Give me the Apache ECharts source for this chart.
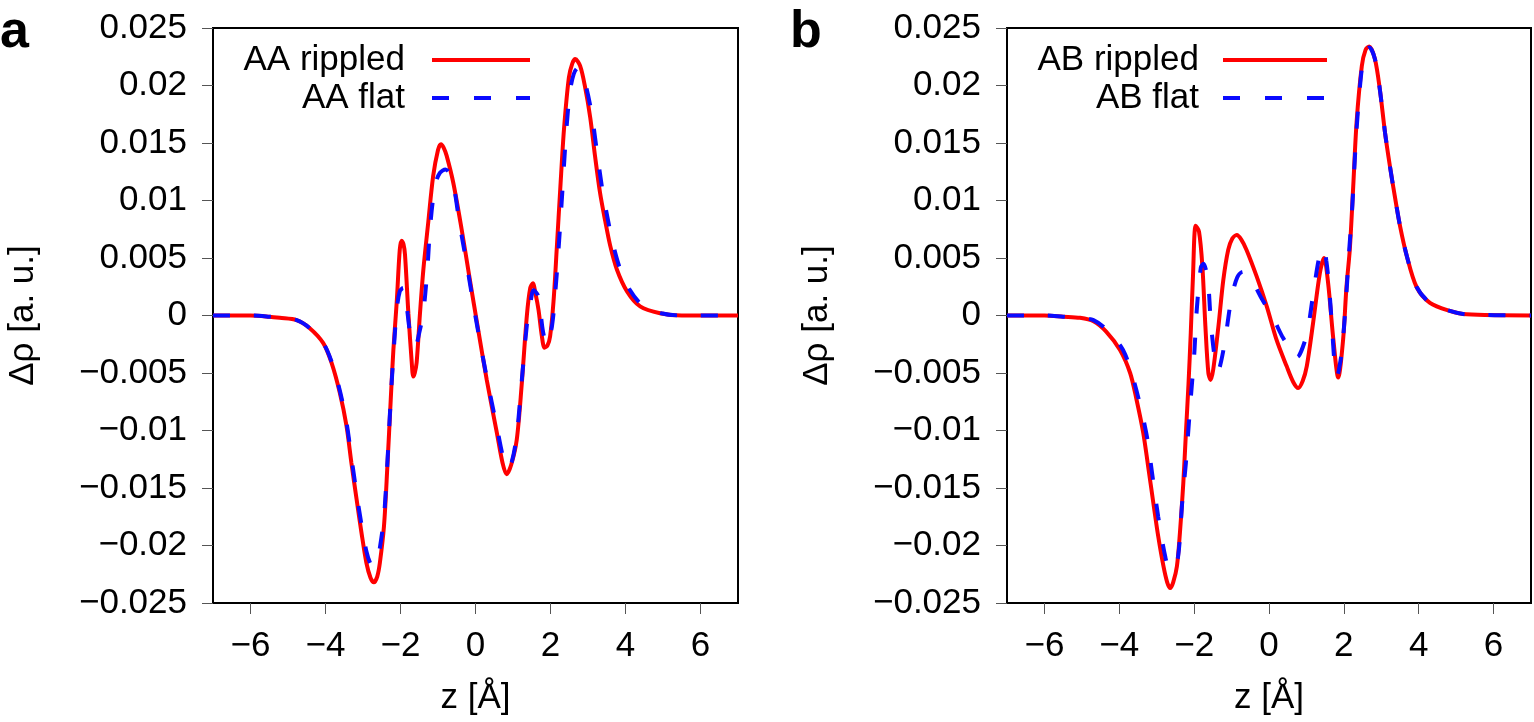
<!DOCTYPE html>
<html>
<head>
<meta charset="utf-8">
<script src="https://cdn.jsdelivr.net/npm/echarts@6/dist/echarts.min.js"></script>
<style>
  html, body { margin: 0; padding: 0; background: #fff; }
  #main { width: 1534px; height: 722px; }
</style>
</head>
<body>
<div id="main"></div>
<script>
// 坐标刻度
var xTicks = [-6, -4, -2, 0, 2, 4, 6];
var yTicks = [-0.025, -0.02, -0.015, -0.01, -0.005, 0, 0.005, 0.01, 0.015, 0.02, 0.025];

// panel a: AA rippled
var aRipZ = [-7, -6, -5.5, -5.22, -4.77, -4.42, -4.06, -3.84, -3.62, -3.44, -3.31, -3.17, -3.04, -2.91, -2.8, -2.71, -2.62, -2.55, -2.44, -2.35, -2.26, -2.19, -2.1, -2.02, -1.97, -1.92, -1.88, -1.79, -1.7, -1.66, -1.62, -1.57, -1.48, -1.39, -1.26, -1.13, -1.0, -0.92, -0.85, -0.77, -0.59, -0.37, -0.15, 0.07, 0.3, 0.57, 0.72, 0.83, 0.95, 1.1, 1.23, 1.37, 1.46, 1.53, 1.6, 1.68, 1.77, 1.84, 1.92, 1.99, 2.08, 2.17, 2.26, 2.36, 2.49, 2.58, 2.66, 2.79, 2.92, 3.06, 3.19, 3.32, 3.46, 3.59, 3.77, 4.04, 4.39, 4.92, 5.5, 7];
var aRipV = [0, 0, -0.0001, -0.0002, -0.0004, -0.0011, -0.0024, -0.0041, -0.0067, -0.0096, -0.0128, -0.016, -0.0189, -0.0215, -0.0228, -0.0232, -0.0227, -0.0215, -0.0183, -0.0131, -0.0073, -0.003, 0.0012, 0.0057, 0.0065, 0.0062, 0.0053, 0.0002, -0.0041, -0.0053, -0.005, -0.0041, 0.0002, 0.004, 0.0081, 0.0121, 0.0144, 0.0149, 0.0146, 0.0139, 0.0115, 0.0075, 0.0031, -0.0012, -0.0056, -0.0102, -0.0128, -0.0138, -0.013, -0.0108, -0.0061, 0, 0.0024, 0.0028, 0.0019, 0.0005, -0.0018, -0.0028, -0.0026, -0.0018, 0.0012, 0.006, 0.011, 0.0162, 0.0207, 0.0219, 0.0223, 0.0217, 0.0199, 0.0172, 0.0138, 0.0107, 0.0082, 0.0061, 0.004, 0.0021, 0.0008, 0.0002, 0, 0];

// panel a: AA flat
var aFlatZ = [-7, -6, -5.5, -5.22, -4.77, -4.42, -4.06, -3.84, -3.62, -3.44, -3.31, -3.17, -3.04, -2.91, -2.8, -2.72, -2.62, -2.55, -2.44, -2.35, -2.26, -2.18, -2.1, -2.02, -1.93, -1.85, -1.76, -1.68, -1.6, -1.5, -1.39, -1.28, -1.21, -1.08, -0.95, -0.8, -0.68, -0.56, -0.44, -0.22, 0.0, 0.3, 0.57, 0.72, 0.85, 0.97, 1.1, 1.23, 1.37, 1.45, 1.55, 1.67, 1.8, 1.9, 2.04, 2.15, 2.23, 2.32, 2.42, 2.52, 2.62, 2.72, 2.82, 2.95, 3.1, 3.24, 3.38, 3.52, 3.66, 3.84, 4.1, 4.45, 4.95, 5.5, 7];
var aFlatV = [0, 0, -0.0001, -0.0002, -0.0004, -0.0011, -0.0024, -0.004, -0.0065, -0.0093, -0.0123, -0.0155, -0.0182, -0.0205, -0.0216, -0.0218, -0.0212, -0.0202, -0.0175, -0.0128, -0.0072, -0.003, 0.0005, 0.0021, 0.0024, 0.0012, -0.0012, -0.0025, -0.0026, -0.0015, 0.0003, 0.0042, 0.0077, 0.0113, 0.0124, 0.0127, 0.0123, 0.0109, 0.0083, 0.0042, -0.0001, -0.0054, -0.0097, -0.0121, -0.0133, -0.0127, -0.0104, -0.0058, -0.0008, 0.0008, 0.0022, 0.0017, -0.0014, -0.0025, -0.0009, 0.0029, 0.0065, 0.011, 0.016, 0.0195, 0.021, 0.0215, 0.0211, 0.0199, 0.0175, 0.0142, 0.011, 0.0085, 0.0063, 0.0042, 0.0023, 0.0009, 0.0002, 0, 0];

// panel b: AB rippled
var bRipZ = [-7, -6, -5.5, -5.05, -4.69, -4.35, -3.98, -3.71, -3.54, -3.36, -3.23, -3.09, -2.96, -2.82, -2.72, -2.64, -2.56, -2.46, -2.38, -2.29, -2.22, -2.15, -2.09, -2.03, -1.96, -1.87, -1.78, -1.7, -1.62, -1.56, -1.49, -1.35, -1.22, -1.09, -0.98, -0.86, -0.74, -0.6, -0.33, -0.06, 0.2, 0.47, 0.65, 0.78, 0.9, 1.01, 1.18, 1.36, 1.47, 1.58, 1.72, 1.85, 1.98, 2.07, 2.16, 2.25, 2.34, 2.48, 2.58, 2.68, 2.83, 2.96, 3.1, 3.23, 3.36, 3.5, 3.68, 3.94, 4.3, 4.83, 5.28, 7];
var bRipV = [0, 0, -0.0001, -0.0002, -0.0005, -0.0014, -0.003, -0.005, -0.0073, -0.0102, -0.0131, -0.0163, -0.0192, -0.0218, -0.0232, -0.0237, -0.0232, -0.0218, -0.0189, -0.0146, -0.0102, -0.0059, -0.0015, 0.0035, 0.0078, 0.0073, 0.0043, -0.0009, -0.005, -0.0056, -0.0047, -0.0009, 0.0031, 0.0057, 0.0067, 0.007, 0.0066, 0.0057, 0.0034, 0.0008, -0.0021, -0.0044, -0.0058, -0.0063, -0.0057, -0.0044, -0.0006, 0.0037, 0.005, 0.0028, -0.0021, -0.0054, -0.0021, 0.0025, 0.0058, 0.0112, 0.0168, 0.0217, 0.0231, 0.0234, 0.0223, 0.0197, 0.0159, 0.013, 0.0104, 0.0078, 0.0052, 0.0025, 0.0011, 0.0004, 0.0001, 0];

// panel b: AB flat
var bFlatZ = [-7, -6, -5.5, -5.05, -4.69, -4.35, -3.9, -3.6, -3.28, -3.12, -2.96, -2.77, -2.65, -2.56, -2.43, -2.32, -2.22, -2.11, -2.0, -1.93, -1.82, -1.75, -1.63, -1.55, -1.42, -1.36, -1.28, -1.17, -1.01, -0.85, -0.7, -0.55, -0.45, -0.2, 0.08, 0.35, 0.6, 0.69, 0.8, 0.93, 1.04, 1.2, 1.35, 1.46, 1.53, 1.6, 1.68, 1.76, 1.82, 1.88, 1.95, 2.05, 2.13, 2.22, 2.34, 2.48, 2.58, 2.68, 2.83, 2.96, 3.1, 3.23, 3.36, 3.5, 3.68, 3.94, 4.3, 4.83, 5.28, 7];
var bFlatV = [0, 0, -0.0001, -0.0002, -0.0004, -0.0012, -0.003, -0.0058, -0.0102, -0.0138, -0.0175, -0.021, -0.0221, -0.022, -0.021, -0.0163, -0.0128, -0.008, -0.0035, 0.0005, 0.0042, 0.0045, 0.0029, -0.0008, -0.0044, -0.0048, -0.004, -0.0021, 0.0014, 0.0033, 0.0038, 0.0036, 0.0031, 0.0015, 0, -0.0018, -0.0031, -0.0037, -0.0035, -0.0025, -0.0012, 0.0023, 0.0052, 0.0059, 0.0048, 0.0027, -0.0008, -0.0045, -0.0053, -0.0045, -0.003, 0.001, 0.0051, 0.0092, 0.0162, 0.0215, 0.023, 0.0233, 0.0223, 0.0197, 0.0159, 0.013, 0.0104, 0.0078, 0.0052, 0.0025, 0.0011, 0.0004, 0.0001, 0];

function pairs(z, v) {
    return z.map(function (x, i) { return [x, v[i]]; });
}

var FONT = 'Liberation Sans';
var RED = '#ff0000';
var BLUE = '#0a0aff';

function fmt(val) {
    var s = (Math.round(val * 1000) / 1000).toString();
    if (Math.abs(val) < 1e-9) s = '0';
    return s.replace('-', '\u2212');
}

function xAxisOf(idx) {
    return {
        type: 'value', gridIndex: idx, min: -7, max: 7,
        name: 'z [\u00c5]', nameLocation: 'middle', nameGap: 78,
        nameTextStyle: { fontFamily: FONT, fontSize: 35, color: '#000' },
        axisLine: { show: false, onZero: false },
        axisTick: { show: true, length: 11, customValues: xTicks, lineStyle: { color: '#555', width: 1 } },
        axisLabel: { customValues: xTicks, fontFamily: FONT, fontSize: 35, color: '#000', margin: 26, formatter: fmt },
        splitLine: { show: false }
    };
}

function yAxisOf(idx) {
    return {
        type: 'value', gridIndex: idx, min: -0.025, max: 0.025,
        name: '\u0394\u03c1 [a. u.]', nameLocation: 'middle', nameGap: 172,
        nameTextStyle: { fontFamily: FONT, fontSize: 35, color: '#000' },
        axisLine: { show: false, onZero: false },
        axisTick: { show: true, length: 11, customValues: yTicks, lineStyle: { color: '#555', width: 1 } },
        axisLabel: { customValues: yTicks, fontFamily: FONT, fontSize: 35, color: '#000', margin: 26, formatter: fmt },
        splitLine: { show: false }
    };
}

function lineSeries(name, idx, data, color, dashed) {
    return {
        name: name, type: 'line', xAxisIndex: idx, yAxisIndex: idx,
        data: data, showSymbol: false, smooth: 0.3,
        lineStyle: { color: color, width: 4, type: dashed ? [17, 24] : 'solid' },
        z: dashed ? 3 : 2
    };
}

// 图例，仿照原图：文字在左、线型在右
function legendGroup(textRight, lineLeft, lineRight, labels) {
    var items = [];
    var ys = [60, 98];
    labels.forEach(function (lab, i) {
        items.push({
            type: 'text', x: textRight, y: ys[i],
            style: { text: lab, fill: '#000', font: '35px "' + FONT + '"', align: 'right', verticalAlign: 'middle' }
        });
        items.push({
            type: 'line',
            shape: { x1: lineLeft, y1: ys[i], x2: lineRight, y2: ys[i] },
            style: { stroke: i === 0 ? RED : BLUE, lineWidth: 4, lineDash: i === 0 ? null : [17, 25] }
        });
    });
    return items;
}

var chart = echarts.init(document.getElementById('main'));

var option = {
    backgroundColor: '#fff',
    animation: false,
    grid: [
        { left: 213, top: 28, width: 525, height: 575, show: true, borderColor: '#000', borderWidth: 2, backgroundColor: 'transparent' },
        { left: 1007, top: 28, width: 524, height: 575, show: true, borderColor: '#000', borderWidth: 2, backgroundColor: 'transparent' }
    ],
    xAxis: [xAxisOf(0), xAxisOf(1)],
    yAxis: [yAxisOf(0), yAxisOf(1)],
    series: [
        lineSeries('AA rippled', 0, pairs(aRipZ, aRipV), RED, false),
        lineSeries('AA flat', 0, pairs(aFlatZ, aFlatV), BLUE, true),
        lineSeries('AB rippled', 1, pairs(bRipZ, bRipV), RED, false),
        lineSeries('AB flat', 1, pairs(bFlatZ, bFlatV), BLUE, true)
    ],
    graphic: [
        { type: 'text', x: 0, y: 33, style: { text: 'a', fill: '#000', font: 'bold 52px "' + FONT + '"', verticalAlign: 'middle' } },
        { type: 'text', x: 790, y: 33, style: { text: 'b', fill: '#000', font: 'bold 52px "' + FONT + '"', verticalAlign: 'middle' } }
    ].concat(legendGroup(405, 432, 530, ['AA rippled', 'AA flat']))
     .concat(legendGroup(1199, 1223, 1327, ['AB rippled', 'AB flat']))
};

chart.setOption(option);
</script>
</body>
</html>
